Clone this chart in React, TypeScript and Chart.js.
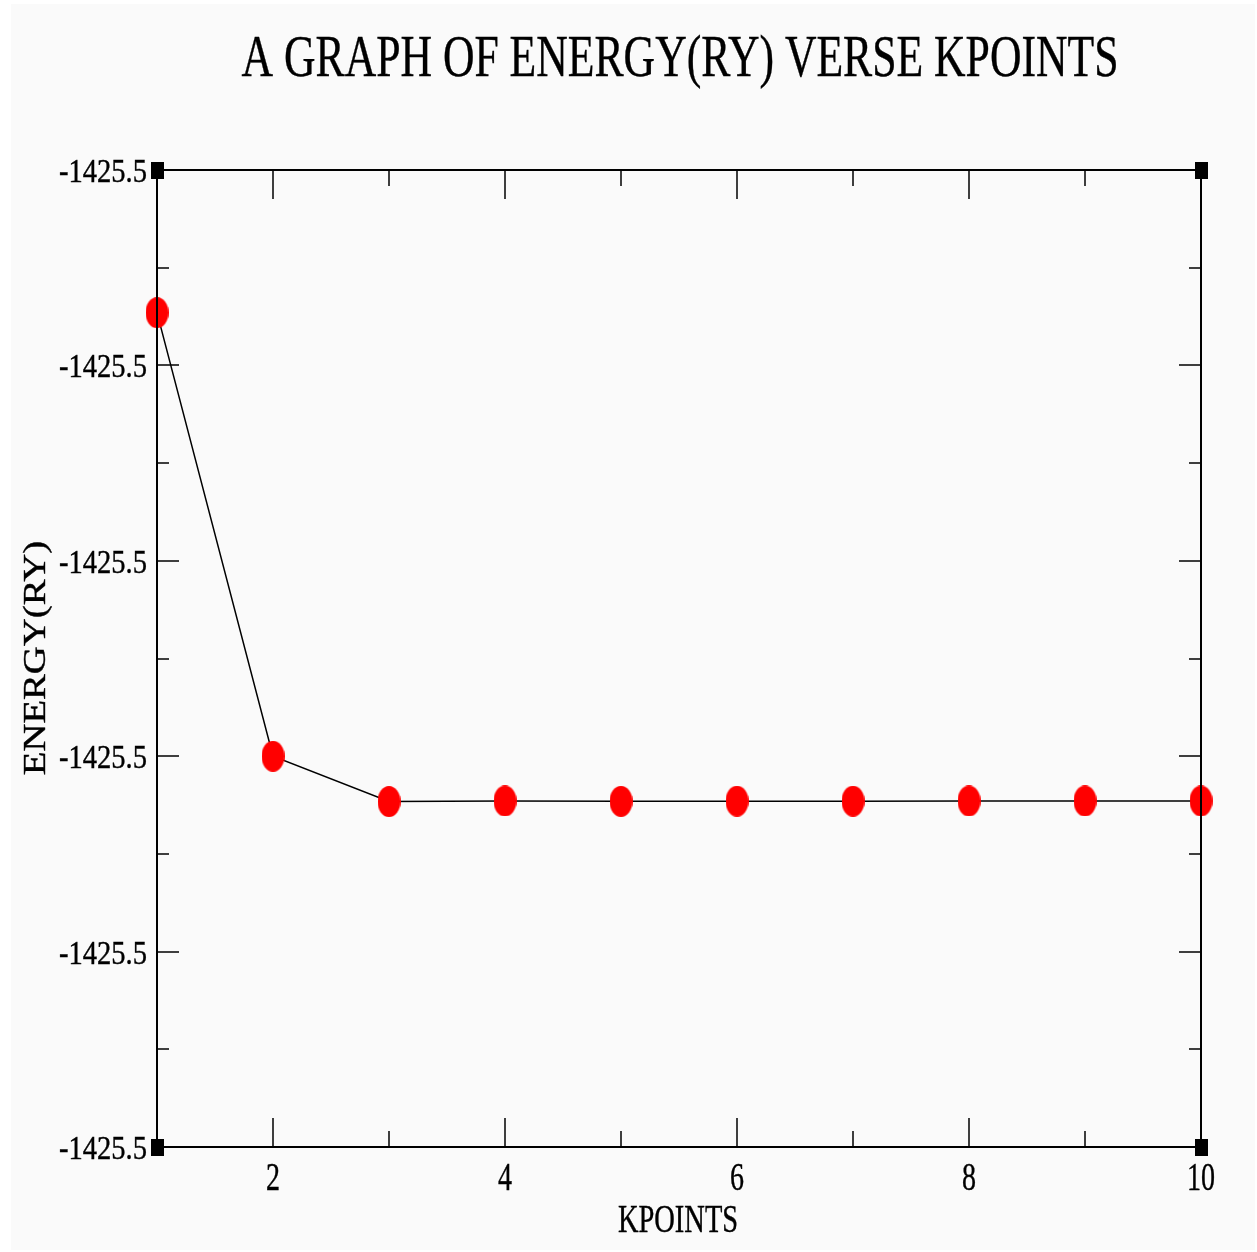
import { useEffect, useRef } from "react";
import { Chart, registerables } from "chart.js";

Chart.register(...registerables);

// Total energy (Ry) against the k-point grid size
const kpoints = [1, 2, 3, 4, 5, 6, 7, 8, 9, 10];
const energy = [
  -1425.4973, -1425.52, -1425.52232, -1425.52229, -1425.52231, -1425.5223,
  -1425.5223, -1425.52229, -1425.52229, -1425.52229,
];

// Axis ranges and ticks
const xRange = [1, 10];
const yRange = [-1425.54, -1425.49];
const xMajorTicks = [2, 4, 6, 8, 10];
const xMinorTicks = [3, 5, 7, 9];
const yMajorTicks = [-1425.54, -1425.53, -1425.52, -1425.51, -1425.5, -1425.49];
const yMinorTicks = [-1425.535, -1425.525, -1425.515, -1425.505, -1425.495];

// Corner markers of the frame
const cornerX = [1, 10, 1, 10];
const cornerY = [-1425.49, -1425.49, -1425.54, -1425.54];

const titleText = "A GRAPH OF ENERGY(RY) VERSE KPOINTS";
const xTitleText = "KPOINTS";
const yTitleText = "ENERGY(RY)";

const FONT = '"Liberation Serif", "Times New Roman", serif';

function ellipseMarker(w: number, h: number, color: string) {
  const c = document.createElement("canvas");
  c.width = w;
  c.height = h;
  const g = c.getContext("2d")!;
  g.fillStyle = color;
  g.beginPath();
  g.ellipse(w / 2, h / 2, w / 2, h / 2, 0, 0, Math.PI * 2);
  g.fill();
  return c;
}

function rectMarker(w: number, h: number, color: string) {
  const c = document.createElement("canvas");
  c.width = w;
  c.height = h;
  const g = c.getContext("2d")!;
  g.fillStyle = color;
  g.fillRect(0, 0, w, h);
  return c;
}

function drawText(
  ctx: CanvasRenderingContext2D,
  text: string,
  x: number,
  y: number,
  size: number,
  sx: number,
  align: CanvasTextAlign,
  rotate = 0
) {
  ctx.save();
  ctx.translate(x, y);
  if (rotate) ctx.rotate(rotate);
  ctx.scale(sx, 1);
  ctx.font = `${size}px ${FONT}`;
  ctx.textAlign = align;
  ctx.textBaseline = "alphabetic";
  ctx.fillStyle = "#000";
  ctx.strokeStyle = "#000";
  ctx.lineWidth = 0.4;
  ctx.fillText(text, 0, 0);
  ctx.strokeText(text, 0, 0);
  ctx.restore();
}

const backgroundPlugin = {
  id: "pageBackground",
  beforeDraw(chart: any) {
    const { ctx, width, height } = chart;
    ctx.save();
    ctx.fillStyle = "#ffffff";
    ctx.fillRect(0, 0, width, height);
    ctx.fillStyle = "#fafafa";
    ctx.fillRect(11, 4, width - 13, height - 6);
    ctx.restore();
  },
};

const framePlugin = {
  id: "graceFrame",
  afterDatasetsDraw(chart: any) {
    const { ctx, chartArea } = chart;
    const xs = chart.scales.x;
    const ys = chart.scales.y;
    const { left, right, top, bottom } = chartArea;
    ctx.save();
    ctx.strokeStyle = "#000";
    ctx.lineWidth = 2;
    ctx.strokeRect(left, top, right - left, bottom - top);

    ctx.lineWidth = 1.5;
    ctx.beginPath();
    const xTick = (v: number, len: number) => {
      const px = Math.round(xs.getPixelForValue(v));
      ctx.moveTo(px, top);
      ctx.lineTo(px, top + len);
      ctx.moveTo(px, bottom);
      ctx.lineTo(px, bottom - len);
    };
    const yTick = (v: number, len: number) => {
      const py = Math.round(ys.getPixelForValue(v));
      ctx.moveTo(left, py);
      ctx.lineTo(left + len, py);
      ctx.moveTo(right, py);
      ctx.lineTo(right - len, py);
    };
    xMajorTicks.forEach((v) => xTick(v, 29));
    xMinorTicks.forEach((v) => xTick(v, 16));
    yMajorTicks.forEach((v) => yTick(v, 22));
    yMinorTicks.forEach((v) => yTick(v, 12));
    ctx.stroke();
    ctx.restore();
  },
  afterDraw(chart: any) {
    const { ctx, chartArea } = chart;
    const xs = chart.scales.x;
    const ys = chart.scales.y;
    const { left, bottom } = chartArea;

    // tick labels
    xMajorTicks.forEach((v) => {
      drawText(ctx, String(v), xs.getPixelForValue(v), bottom + 43, 40, 0.7, "center");
    });
    yMajorTicks.forEach((v) => {
      drawText(ctx, v.toFixed(1), left - 10, ys.getPixelForValue(v) + 12, 34, 0.84, "right");
    });

    // titles
    drawText(ctx, titleText, 680, 76, 59, 0.74, "center");
    drawText(ctx, xTitleText, 678, 1232, 39, 0.73, "center");
    drawText(ctx, yTitleText, 45, 658, 32, 1.21, "center", -Math.PI / 2);
  },
};

export default function App() {
  const canvasRef = useRef<HTMLCanvasElement | null>(null);

  useEffect(() => {
    const canvas = canvasRef.current;
    if (!canvas) return;
    const redDot = ellipseMarker(23, 31, "#ff0000");
    const blackSquare = rectMarker(13, 17, "#000000");

    const chart = new Chart(canvas, {
      type: "line",
      data: {
        datasets: [
          {
            label: "Energy",
            data: kpoints.map((k, i) => ({ x: k, y: energy[i] })),
            borderColor: "#000",
            borderWidth: 1.5,
            pointStyle: redDot as any,
            pointRadius: 11,
            pointBackgroundColor: "#ff0000",
            pointBorderWidth: 0,
            tension: 0,
            clip: false as any,
          },
          {
            label: "Frame corners",
            data: cornerX.map((x, i) => ({ x, y: cornerY[i] })),
            showLine: false,
            pointStyle: blackSquare as any,
            pointRadius: 7,
            clip: false as any,
          },
        ],
      },
      options: {
        responsive: false,
        animation: false,
        devicePixelRatio: 1,
        layout: { padding: { left: 157, top: 170, right: 56, bottom: 105 } },
        plugins: {
          legend: { display: false },
          tooltip: { enabled: false },
          title: { display: false },
        },
        scales: {
          x: { type: "linear", min: xRange[0], max: xRange[1], display: false },
          y: { type: "linear", min: yRange[0], max: yRange[1], display: false },
        },
      },
      plugins: [backgroundPlugin, framePlugin],
    });
    return () => chart.destroy();
  }, []);

  return (
    <div style={{ position: "absolute", left: 0, top: 0, width: 1257, height: 1252 }}>
      <canvas ref={canvasRef} width={1257} height={1252} style={{ display: "block" }} />
    </div>
  );
}
